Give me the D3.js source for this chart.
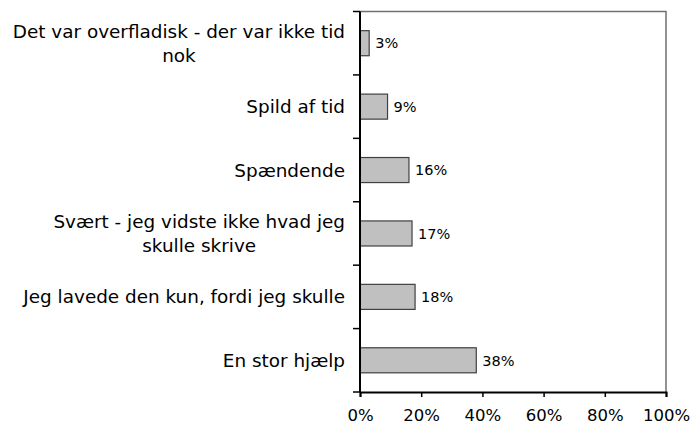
<!DOCTYPE html>
<html>
<head>
<meta charset="utf-8">
<script src="https://cdn.jsdelivr.net/npm/d3@7"></script>
<style>
  html, body { margin: 0; padding: 0; background: #fff; }
  svg { display: block; font-family: "DejaVu Sans", Verdana, sans-serif; }
</style>
</head>
<body>
<svg id="chart" width="692" height="427"></svg>
<script>
// Answers, top to bottom; "\n" marks where a label breaks onto a second line
const categories = [
  "Det var overfladisk - der var ikke tid\nnok",
  "Spild af tid",
  "Spændende",
  "Svært - jeg vidste ikke hvad jeg\nskulle skrive",
  "Jeg lavede den kun, fordi jeg skulle",
  "En stor hjælp"
];
const shares = [0.03, 0.09, 0.16, 0.17, 0.18, 0.38];
const xTicks = [0, 0.2, 0.4, 0.6, 0.8, 1.0];

const svg = d3.select("#chart");
const plot = { left: 360, right: 666, top: 11.5, bottom: 392 };

const x = d3.scaleLinear().domain([0, 1]).range([plot.left, plot.right]);
const pad = 0.605;
const y = d3.scaleBand()
  .domain(categories)
  .range([plot.top, plot.bottom])
  .paddingInner(pad)
  .paddingOuter(pad / 2);
const step = y.step();

// frame: top and right edges
svg.append("path")
  .attr("d", `M${plot.left},${plot.top}H${plot.right}V${plot.bottom}`)
  .attr("fill", "none")
  .attr("stroke", "#707070")
  .attr("stroke-width", 1.5);

// bars
svg.append("g")
  .selectAll("rect")
  .data(categories)
  .join("rect")
  .attr("x", x(0))
  .attr("y", d => y(d))
  .attr("width", (d, i) => x(shares[i]) - x(0))
  .attr("height", y.bandwidth())
  .attr("fill", "#c0c0c0")
  .attr("stroke", "#404040")
  .attr("stroke-width", 1.2);

// value labels
svg.append("g")
  .selectAll("text")
  .data(categories)
  .join("text")
  .attr("x", (d, i) => x(shares[i]) + 6)
  .attr("y", d => y(d) + y.bandwidth() / 2)
  .attr("dy", "0.36em")
  .attr("font-size", 14.5)
  .attr("fill", "#000")
  .text((d, i) => d3.format(".0%")(shares[i]));

// bottom axis
const xAxis = svg.append("g")
  .attr("transform", `translate(0,${plot.bottom})`)
  .call(d3.axisBottom(x).tickValues(xTicks).tickFormat(d3.format(".0%")).tickSize(5).tickPadding(12.5));
xAxis.select(".domain").attr("stroke", "#000").attr("stroke-width", 2);
xAxis.selectAll(".tick line").attr("stroke", "#000").attr("stroke-width", 1.5);
xAxis.selectAll(".tick text").attr("font-size", 16.5).attr("font-family", "DejaVu Sans").attr("fill", "#000");

// left axis with ticks on the category boundaries
const bounds = categories.map(c => y(c) - step * pad / 2).concat([plot.bottom]);
svg.append("line")
  .attr("x1", plot.left).attr("x2", plot.left)
  .attr("y1", plot.top).attr("y2", plot.bottom)
  .attr("stroke", "#000").attr("stroke-width", 2);
svg.append("g")
  .selectAll("line")
  .data(bounds)
  .join("line")
  .attr("x1", plot.left - 7).attr("x2", plot.left)
  .attr("y1", d => d).attr("y2", d => d)
  .attr("stroke", "#000").attr("stroke-width", 1.5);

// category labels: block right-aligned, lines centred within it
const lineH = 23.4;
const labels = svg.append("g").attr("font-size", 18.4).attr("fill", "#000");
categories.forEach(c => {
  const lines = c.split("\n");
  const t = labels.append("text").attr("text-anchor", "middle");
  const spans = lines.map((ln, k) => t.append("tspan").text(ln));
  const maxW = d3.max(spans, s => s.node().getComputedTextLength());
  const cx = 345 - maxW / 2;
  const cy = y(c) + y.bandwidth() / 2;
  spans.forEach((s, k) => {
    s.attr("x", cx)
     .attr("y", cy + (k - (lines.length - 1) / 2) * lineH)
     .attr("dy", "0.36em");
  });
});
</script>
</body>
</html>
